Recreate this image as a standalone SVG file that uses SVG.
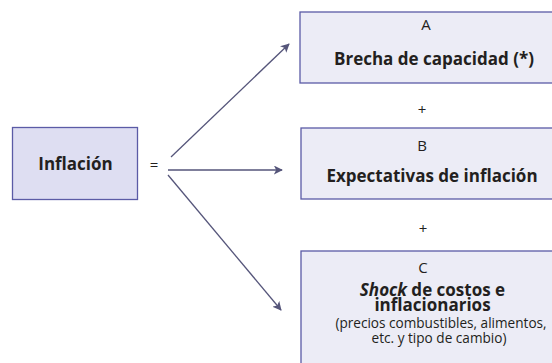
<svg xmlns="http://www.w3.org/2000/svg" width="552" height="363" viewBox="0 0 552 363">
<defs>
<style>
.box{fill:#ececf6;stroke:#5b5ba6;stroke-width:1.3}
.main{fill:#dedef2;stroke:#5b5ba6;stroke-width:1.3}
text{font-family:"Open Sans","Noto Sans",sans-serif;fill:#231f20;text-anchor:middle}
.b{font-weight:bold;font-size:17px}
.r{font-size:15px}
.s{font-size:13.6px}
.conn line{stroke:#55557a;stroke-width:1.3;fill:none}
</style>
<marker id="ah" viewBox="0 0 10 10" refX="9" refY="5" markerWidth="9" markerHeight="9" markerUnits="userSpaceOnUse" orient="auto">
<path d="M0,0 L10,5 L0,10 L2.5,5 Z" fill="#55557a"/>
</marker>
</defs>
<rect width="552" height="363" fill="#ffffff"/>
<g id="inflacion">
<rect class="main" x="12.5" y="127.5" width="125" height="72"/>
<text class="b" x="75.5" y="170">Inflación</text>
<text class="r" x="154" y="170" font-size="16">=</text>
</g>
<g class="conn" id="connectors">
<line x1="171" y1="157" x2="289" y2="44" marker-end="url(#ah)"/>
<line x1="168" y1="170" x2="282" y2="170" marker-end="url(#ah)"/>
<line x1="168" y1="175" x2="281" y2="310" marker-end="url(#ah)"/>
</g>
<g id="nodeA">
<rect class="box" x="300" y="12" width="270" height="71"/>
<text class="r" x="426" y="30">A</text>
<text class="b" x="434" y="65">Brecha de capacidad (*)</text>
</g>
<text class="r" x="422" y="115">+</text>
<g id="nodeB">
<rect class="box" x="301" y="128" width="270" height="71"/>
<text class="r" x="422" y="151">B</text>
<text class="b" x="432" y="182">Expectativas de inflación</text>
</g>
<text class="r" x="423" y="234">+</text>
<g id="nodeC">
<rect class="box" x="301" y="251" width="270" height="130"/>
<text class="r" x="423" y="273">C</text>
<text class="b" x="432.5" y="296"><tspan font-style="italic">Shock</tspan> de costos e</text>
<text class="b" x="432.5" y="310.5">inflacionarios</text>
<text class="s" x="441" y="328">(precios combustibles, alimentos,</text>
<text class="s" x="439" y="343">etc. y tipo de cambio)</text>
</g>
</svg>
